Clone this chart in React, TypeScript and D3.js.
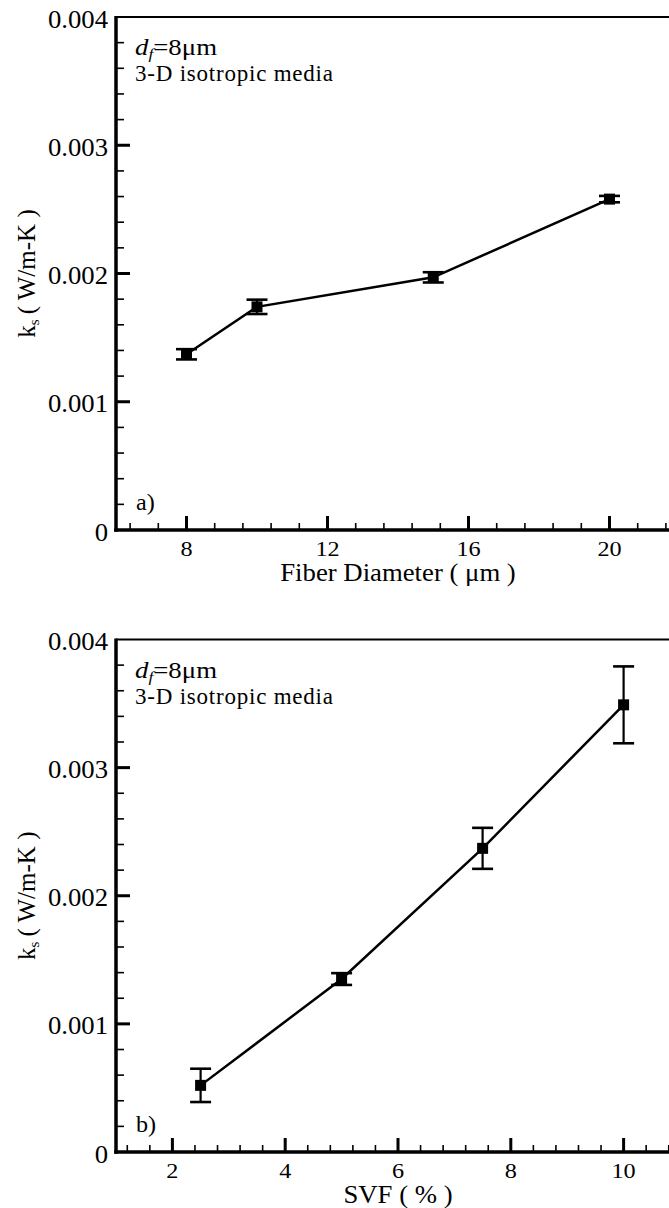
import { useEffect, useRef } from "react";
import * as d3 from "d3";

// panel a) : conductivity vs fiber diameter
const fiberDiameter = [8, 10, 15, 20];
const ksFiber = [0.00137, 0.00174, 0.00197, 0.00258];
const errFiber = [0.00004, 0.000056, 0.00004, 0.000025];

// panel b) : conductivity vs solid volume fraction
const svf = [2.5, 5, 7.5, 10];
const ksSvf = [0.00052, 0.00135, 0.00237, 0.00349];
const errSvf = [0.00013, 0.000046, 0.00016, 0.0003];

const yTickValues = [0, 0.001, 0.002, 0.003, 0.004];
const yTickLabels = ["0", "0.001", "0.002", "0.003", "0.004"];
const fiberTicks = [8, 12, 16, 20];
const svfTicks = [2, 4, 6, 8, 10];

const FONT = "Liberation Serif";
const left = 116;
const right = 680;

type Panel = {
  top: number;
  bottom: number;
  xDomain: [number, number];
  xMajor: number[];
  minorStep: number;
  xs: number[];
  ys: number[];
  errs: number[];
  title: string;
  tag: string;
};

const panels: Panel[] = [
  {
    top: 17,
    bottom: 530,
    xDomain: [6, 22],
    xMajor: fiberTicks,
    minorStep: 0.8,
    xs: fiberDiameter,
    ys: ksFiber,
    errs: errFiber,
    title: "Fiber Diameter ( \u03bcm )",
    tag: "a)",
  },
  {
    top: 639.5,
    bottom: 1152,
    xDomain: [1, 11],
    xMajor: svfTicks,
    minorStep: 0.4,
    xs: svf,
    ys: ksSvf,
    errs: errSvf,
    title: "SVF ( % )",
    tag: "b)",
  },
];

// text drawn at origin of a stretched group (the source glyphs are a bit wide)
const addText = (parent, x, y, str, size, anchor = "start", sx = 1.08) => {
  const g = parent.append("g").attr("transform", `translate(${x},${y}) scale(${sx},1)`);
  return g
    .append("text")
    .attr("font-family", FONT)
    .attr("font-size", size)
    .attr("text-anchor", anchor)
    .attr("fill", "#000")
    .text(str);
};

const drawPanel = (svg, p: Panel) => {
  const x = d3.scaleLinear().domain(p.xDomain).range([left, right]);
  const y = d3.scaleLinear().domain([0, 0.004]).range([p.bottom, p.top]);
  const g = svg.append("g");

  // data line
  const pts = p.xs.map((v, i) => [v, p.ys[i]] as [number, number]);
  g.append("path")
    .attr("d", d3.line().x((d) => x(d[0])).y((d) => y(d[1]))(pts))
    .attr("fill", "none")
    .attr("stroke", "#000")
    .attr("stroke-width", 2.5);

  // error bars
  const eb = g.selectAll("g.err").data(pts).join("g").attr("class", "err");
  eb.append("line")
    .attr("x1", (d) => x(d[0]))
    .attr("x2", (d) => x(d[0]))
    .attr("y1", (d, i) => y(d[1] - p.errs[i]))
    .attr("y2", (d, i) => y(d[1] + p.errs[i]))
    .attr("stroke", "#000")
    .attr("stroke-width", 2.2);
  [-1, 1].forEach((s) => {
    eb.append("line")
      .attr("x1", (d) => x(d[0]) - 10.5)
      .attr("x2", (d) => x(d[0]) + 10.5)
      .attr("y1", (d, i) => y(d[1] + s * p.errs[i]))
      .attr("y2", (d, i) => y(d[1] + s * p.errs[i]))
      .attr("stroke", "#000")
      .attr("stroke-width", 2.6);
  });

  // square markers
  g.selectAll("rect.mk")
    .data(pts)
    .join("rect")
    .attr("class", "mk")
    .attr("x", (d) => x(d[0]) - 5.5)
    .attr("y", (d) => y(d[1]) - 5.5)
    .attr("width", 11)
    .attr("height", 11)
    .attr("fill", "#000");

  // minor + major x ticks (pointing inward)
  const st = p.minorStep;
  const minorX = d3
    .range(Math.ceil(p.xDomain[0] / st + 1e-9), Math.floor(p.xDomain[1] / st - 1e-9) + 1)
    .map((i) => i * st)
    .filter((v) => !p.xMajor.some((m) => Math.abs(m - v) < 1e-6));
  g.selectAll("line.mx")
    .data(minorX)
    .join("line")
    .attr("x1", (d) => x(d))
    .attr("x2", (d) => x(d))
    .attr("y1", p.bottom)
    .attr("y2", p.bottom - 7)
    .attr("stroke", "#000")
    .attr("stroke-width", 1.6);
  g.selectAll("line.Mx")
    .data(p.xMajor)
    .join("line")
    .attr("x1", (d) => x(d))
    .attr("x2", (d) => x(d))
    .attr("y1", p.bottom)
    .attr("y2", p.bottom - 14)
    .attr("stroke", "#000")
    .attr("stroke-width", 3);

  // y ticks
  const minorY = d3
    .range(1, 20)
    .filter((i) => i % 5 !== 0)
    .map((i) => i * 0.0002);
  g.selectAll("line.my")
    .data(minorY)
    .join("line")
    .attr("x1", left)
    .attr("x2", left + 8)
    .attr("y1", (d) => y(d))
    .attr("y2", (d) => y(d))
    .attr("stroke", "#000")
    .attr("stroke-width", 1.6);
  g.selectAll("line.My")
    .data(yTickValues.slice(1, 4))
    .join("line")
    .attr("x1", left)
    .attr("x2", left + 14)
    .attr("y1", (d) => y(d))
    .attr("y2", (d) => y(d))
    .attr("stroke", "#000")
    .attr("stroke-width", 3);

  // frame
  g.append("line")
    .attr("x1", left)
    .attr("x2", right)
    .attr("y1", p.top)
    .attr("y2", p.top)
    .attr("stroke", "#000")
    .attr("stroke-width", 2);
  g.append("line")
    .attr("x1", left)
    .attr("x2", left)
    .attr("y1", p.top - 1)
    .attr("y2", p.bottom + 1.75)
    .attr("stroke", "#000")
    .attr("stroke-width", 3.5);
  g.append("line")
    .attr("x1", left - 1.75)
    .attr("x2", right)
    .attr("y1", p.bottom)
    .attr("y2", p.bottom)
    .attr("stroke", "#000")
    .attr("stroke-width", 3.5);

  // tick labels
  yTickValues.forEach((v, i) => {
    addText(g, 108, y(v) + 10.5, yTickLabels[i], 24.5, "end", 1.09);
  });
  p.xMajor.forEach((v) => {
    addText(g, x(v), p.bottom + 26, String(v), 22, "middle", 1.1);
  });

  // axis titles
  addText(g, (left + right) / 2, p.bottom + 51, p.title, 25, "middle", 1.07);
  const yl = g
    .append("text")
    .attr("transform", `translate(35,${(p.top + p.bottom) / 2}) rotate(-90)`)
    .attr("font-family", FONT)
    .attr("font-size", 25)
    .attr("text-anchor", "middle")
    .attr("fill", "#000");
  yl.append("tspan").text("k");
  yl.append("tspan").attr("font-size", 15).attr("dy", 4).text("s");
  yl.append("tspan").attr("dy", -4).text("\u2009( W/m-K )");

  // annotation
  const ann = g
    .append("text")
    .attr("x", 135)
    .attr("y", p.top + 38)
    .attr("font-family", FONT)
    .attr("font-size", 23)
    .attr("fill", "#000")
    .attr("textLength", 82)
    .attr("lengthAdjust", "spacingAndGlyphs");
  ann.append("tspan").attr("font-style", "italic").text("d");
  ann.append("tspan").attr("font-style", "italic").attr("font-size", 15).attr("dy", 4).text("f");
  ann.append("tspan").attr("dy", -4).text("=8\u03bcm");
  g.append("text")
    .attr("x", 135)
    .attr("y", p.top + 64)
    .attr("font-family", FONT)
    .attr("font-size", 23)
    .attr("fill", "#000")
    .attr("textLength", 198)
    .attr("lengthAdjust", "spacing")
    .text("3-D isotropic media");

  // panel tag
  addText(g, 136, p.bottom - 20, p.tag, 23, "start", 1.05);
};

const App = () => {
  const ref = useRef<SVGSVGElement>(null);

  useEffect(() => {
    const svg = d3.select(ref.current);
    svg.selectAll("*").remove();
    svg.append("rect").attr("width", 669).attr("height", 1208).attr("fill", "#fff");
    panels.forEach((p) => drawPanel(svg, p));
  }, []);

  return (
    <svg
      ref={ref}
      width={669}
      height={1208}
      style={{ position: "absolute", left: 0, top: 0, display: "block" }}
    ></svg>
  );
};

export default App;
